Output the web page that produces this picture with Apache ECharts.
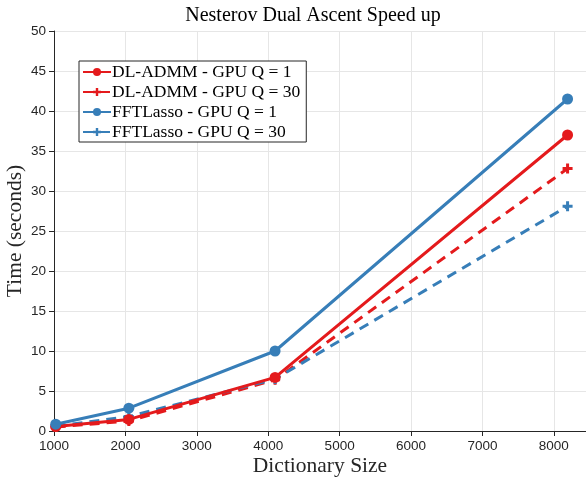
<!DOCTYPE html>
<html><head><meta charset="utf-8">
<script src="https://cdn.jsdelivr.net/npm/echarts@6/dist/echarts.min.js"></script>
<style>html,body{margin:0;padding:0;background:#fff}#c{width:586px;height:479px}</style>
</head><body><div id="c"></div>
<script>
const dictSizes = [1024, 2048, 4096, 8192];
const admmQ1 = [0.55, 1.45, 6.7, 37.0];
const admmQ30 = [0.5, 1.25, 6.4, 32.8];
const fftQ1 = [0.85, 2.85, 10.0, 41.5];
const fftQ30 = [0.6, 1.8, 6.5, 28.1];
const seriesNames = ['DL-ADMM - GPU Q = 1', 'DL-ADMM - GPU Q = 30', 'FFTLasso - GPU Q = 1', 'FFTLasso - GPU Q = 30'];
const RED = '#e41a1c', BLUE = '#377eb8';
const PLUS = 'path://M-1.5,-5H1.5V-1.5H5V1.5H1.5V5H-1.5V1.5H-5V-1.5H-1.5Z';
const serif = '"Liberation Serif", "DejaVu Serif", serif';
const sans = '"Liberation Sans", Arial, sans-serif';
function mk(name, ys, color, dashed) {
  return {
    name: name, type: 'line',
    data: dictSizes.map((x, i) => [x, ys[i]]),
    symbol: dashed ? PLUS : 'circle',
    symbolSize: dashed ? 10 : 11,
    showAllSymbol: true,
    lineStyle: { color: color, width: 3, type: dashed ? [10, 7] : 'solid' },
    itemStyle: { color: color, borderWidth: 0 },
    emphasis: { disabled: true },
    animation: false, z: dashed ? 2 : 3
  };
}
const chart = echarts.init(document.getElementById('c'));
chart.setOption({
  backgroundColor: '#fff',
  animation: false,
  title: { text: 'Nesterov Dual Ascent Speed up', left: 308, textAlign: 'center', top: 1,
    textStyle: { fontFamily: serif, fontWeight: 'normal', fontSize: 20, color: '#000' } },
  grid: { left: 54, top: 31, bottom: 48, right: 0, containLabel: false, outerBoundsMode: 'none' },
  legend: {
    orient: 'vertical', left: 79, top: 61, itemGap: 2, itemWidth: 28, itemHeight: 10,
    padding: [2, 6, 1, 3],
    borderColor: '#262626', borderWidth: 1, backgroundColor: '#fff',
    textStyle: { fontFamily: serif, fontSize: 17.5, color: '#000', padding: [0, 0, 0, -4] },
    data: seriesNames
  },
  xAxis: {
    type: 'value', min: 1000, max: 8450, interval: 1000,
    name: 'Dictionary Size', nameLocation: 'middle', nameGap: 24, nameMoveOverlap: false,
    nameTextStyle: { fontFamily: serif, fontSize: 21.5, color: '#262626' },
    axisLine: { lineStyle: { color: '#262626', width: 1 } },
    axisTick: { inside: false, length: 5, lineStyle: { color: '#262626' } },
    axisLabel: { fontFamily: sans, fontSize: 13.5, color: '#262626', margin: 8, showMaxLabel: false,
      formatter: v => (v % 1000 === 0 ? String(v) : '') },
    splitLine: { show: true, lineStyle: { color: '#e6e6e6', width: 1 } }
  },
  yAxis: {
    type: 'value', min: 0, max: 50, interval: 5,
    name: 'Time (seconds)', nameLocation: 'middle', nameGap: 28, nameMoveOverlap: false,
    nameTextStyle: { fontFamily: serif, fontSize: 21.5, color: '#262626' },
    axisLine: { show: true, lineStyle: { color: '#262626', width: 1 } },
    axisTick: { show: true, length: 5, lineStyle: { color: '#262626' } },
    axisLabel: { fontFamily: sans, fontSize: 13.5, color: '#262626', margin: 8 },
    splitLine: { show: true, lineStyle: { color: '#e6e6e6', width: 1 } }
  },
  series: [
    mk(seriesNames[0], admmQ1, RED, false),
    mk(seriesNames[1], admmQ30, RED, true),
    mk(seriesNames[2], fftQ1, BLUE, false),
    mk(seriesNames[3], fftQ30, BLUE, true)
  ]
});
</script></body></html>
